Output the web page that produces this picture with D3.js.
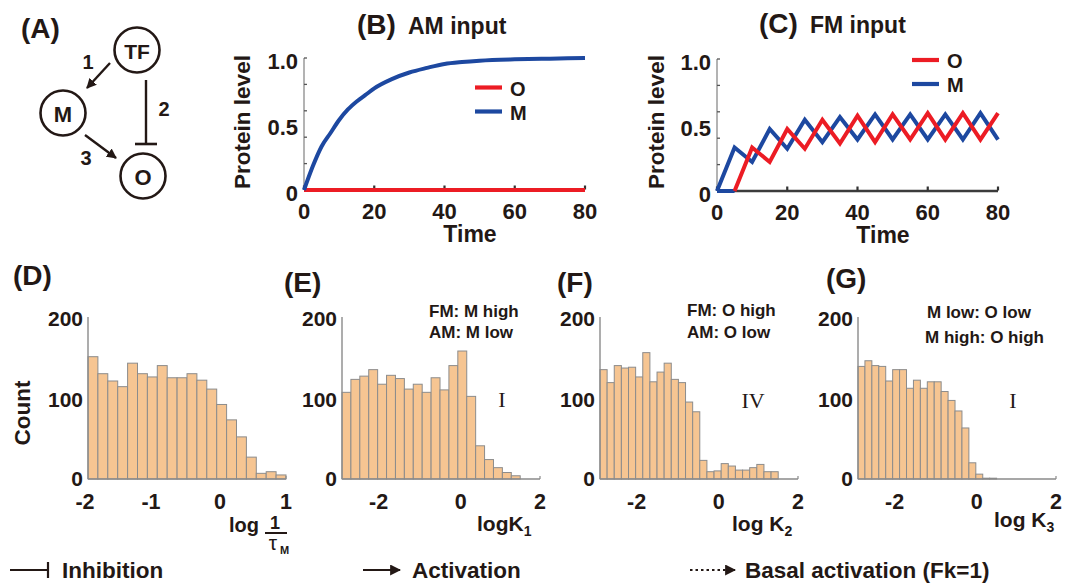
<!DOCTYPE html>
<html><head><meta charset="utf-8">
<script src="https://cdn.jsdelivr.net/npm/d3@7"></script>
<style>
html,body{margin:0;padding:0;background:#fff;}
svg{display:block;font-family:"Liberation Sans",Arial,sans-serif;}
</style></head>
<body><svg id="c" width="1075" height="583"></svg>
<script>
// ---------------- DATA ----------------
// Panel B (AM input)
const bTime = [0,2.5,5,7.5,10,12.5,15,17.5,20,25,30,35,40,45,50,60,70,80];
const bM    = [0,0.18,0.33,0.43,0.53,0.61,0.67,0.72,0.77,0.84,0.89,0.925,0.955,0.97,0.98,0.99,0.995,1.0];
const bOTime = [0,80];
const bO     = [0,0];
// Panel C (FM input)
const cMTime = [0,5,10,15,20,25,30,35,40,45,50,55,60,65,70,75,80];
const cM     = [0,0.33,0.22,0.47,0.32,0.54,0.37,0.56,0.39,0.58,0.39,0.58,0.39,0.58,0.39,0.59,0.39];
const cOTime = [5,10,15,20,25,30,35,40,45,50,55,60,65,70,75,80];
const cO     = [0,0.33,0.22,0.47,0.32,0.54,0.36,0.57,0.37,0.58,0.39,0.59,0.39,0.59,0.39,0.59];
const cOPreTime = [0,5];
const cOPre     = [0,0];
const lineTicksX = [0,20,40,60,80];
const lineTicksYMinor = [0,0.2,0.4,0.6,0.8,1.0];
const lineTicksYLabels = [0,0.5,1.0];
const lineTickYText = ["0","0.5","1.0"];
// Histograms
const dCounts = [151,130,121,114,143,130,126,140,125,125,130,122,111,92,73,52,27,7,9,5];
const dBin = {start:-2, width:0.15};
const eCounts = [107,123,127,135,117,128,124,111,117,107,125,110,140,158,102,41,24,14,8,4];
const eBin = {start:-3, width:0.225};
const fCounts = [135,119,140,137,138,126,156,120,132,143,123,119,95,83,23,9,10,19,16,11,11,14,18,9,9];
const fBin = {start:-3, width:0.18};
const gCounts = [139,146,140,139,121,135,135,112,122,112,120,120,108,97,84,63,20,6,1,1];
const gBin = {start:-3, width:0.175};
const dTicks = [-2,-1,0,1];
const kTicks = [-2,0,2];
const countTicks = [0,100,200];

// ---------------- STYLE ----------------
const INK = "#231815";
const RED = "#ec1c24";
const BLUE = "#1d48a0";
const BARFILL = "#f6c592";
const BARSTROKE = "#8c8c8c";
const AXISGRAY = "#8a8a8a";

const svg = d3.select("#c");
const defs = svg.append("defs");
defs.append("marker").attr("id","ah").attr("viewBox","0 0 10 10").attr("refX",9).attr("refY",5)
  .attr("markerWidth",4.2).attr("markerHeight",4.2).attr("orient","auto")
  .append("path").attr("d","M0,0L10,5L0,10Z").attr("fill",INK);
defs.append("marker").attr("id","ah2").attr("viewBox","0 0 10 10").attr("refX",9).attr("refY",5)
  .attr("markerWidth",5).attr("markerHeight",5).attr("orient","auto").attr("markerUnits","strokeWidth")
  .append("path").attr("d","M0,0L10,5L0,10Z").attr("fill",INK);

function txt(x,y,s,size,opts={}){
  const t = svg.append("text").attr("x",x).attr("y",y).text(s)
    .attr("font-size",size).attr("font-weight",opts.weight||"bold").attr("fill",opts.fill||INK)
    .attr("text-anchor",opts.anchor||"start").attr("dominant-baseline",opts.base||"central");
  if(opts.family) t.attr("font-family",opts.family);
  if(opts.rotate) t.attr("transform",`rotate(-90,${x},${y})`);
  return t;
}

// ---------------- PANEL A ----------------
txt(21,28,"(A)",28);
const nodes = [{k:"TF",x:137,y:50},{k:"M",x:63,y:113},{k:"O",x:143,y:176}];
nodes.forEach(n=>{
  svg.append("circle").attr("cx",n.x).attr("cy",n.y).attr("r",22.5).attr("fill","none").attr("stroke",INK).attr("stroke-width",2.6);
  txt(n.x,n.y+1,n.k,n.k==="TF"?21:22,{anchor:"middle"});
});
svg.append("line").attr("x1",110).attr("y1",63).attr("x2",87).attr("y2",88).attr("stroke",INK).attr("stroke-width",2.4).attr("marker-end","url(#ah)");
txt(88,62,"1",20,{anchor:"middle"});
svg.append("line").attr("x1",146).attr("y1",80).attr("x2",146).attr("y2",144).attr("stroke",INK).attr("stroke-width",2.4);
svg.append("line").attr("x1",135).attr("y1",144).attr("x2",157).attr("y2",144).attr("stroke",INK).attr("stroke-width",2.6);
txt(164,109,"2",20,{anchor:"middle"});
svg.append("line").attr("x1",85).attr("y1",135).attr("x2",116).attr("y2",158).attr("stroke",INK).attr("stroke-width",2.4).attr("marker-end","url(#ah)");
txt(86,158,"3",20,{anchor:"middle"});

// ---------------- LINE PANELS ----------------
function linePanel(cfg){
  const x = d3.scaleLinear().domain([0,80]).range([cfg.x0,cfg.x1]);
  const y = d3.scaleLinear().domain([0,1]).range([cfg.y0,cfg.y1]);
  const g = svg.append("g");
  g.append("line").attr("x1",cfg.x0).attr("x2",cfg.x1).attr("y1",cfg.y0).attr("y2",cfg.y0).attr("stroke","#3b3b3b").attr("stroke-width",2.4);
  g.append("line").attr("x1",cfg.x0).attr("x2",cfg.x0).attr("y1",cfg.y0).attr("y2",cfg.y1).attr("stroke",AXISGRAY).attr("stroke-width",1.3);
  lineTicksYMinor.forEach(v=>{
    g.append("line").attr("x1",cfg.x0).attr("x2",cfg.x0+3).attr("y1",y(v)).attr("y2",y(v)).attr("stroke","#555").attr("stroke-width",1.3);
  });
  lineTicksYLabels.forEach((v,i)=>{
    txt(cfg.x0-6,y(v)+3,lineTickYText[i],22,{anchor:"end"});
  });
  lineTicksX.forEach(v=>{
    g.append("line").attr("x1",x(v)).attr("x2",x(v)).attr("y1",cfg.y0-0.5).attr("y2",cfg.y0-4.5).attr("stroke","#333").attr("stroke-width",2.2);
    txt(x(v),cfg.y0+21,String(v),22,{anchor:"middle"});
  });
  cfg.series.forEach(s=>{
    const line = d3.line().x(d=>x(d[0])).y(d=>y(d[1])).curve(s.smooth?d3.curveMonotoneX:d3.curveLinear);
    g.append("path").attr("d",line(d3.zip(s.t,s.v))).attr("fill","none").attr("stroke",s.c).attr("stroke-width",4).attr("stroke-linejoin","miter").attr("stroke-miterlimit",3);
  });
  txt(cfg.timeX,cfg.y0+44,"Time",23,{anchor:"middle"});
  txt(cfg.ylabX,122,"Protein level",22.5,{anchor:"middle",rotate:true});
  cfg.legend.forEach(l=>{
    g.append("line").attr("x1",cfg.lx).attr("x2",cfg.lx+27).attr("y1",l.y).attr("y2",l.y).attr("stroke",l.c).attr("stroke-width",4.2);
    txt(cfg.lx+35,l.y+1,l.k,20);
  });
}
linePanel({x0:304,x1:585,y0:190,y1:58,timeX:470,ylabX:242,lx:475,
  series:[{t:bOTime,v:bO,c:RED},{t:bTime,v:bM,c:BLUE,smooth:true}],
  legend:[{k:"O",c:RED,y:87.5},{k:"M",c:BLUE,y:111.5}]});
linePanel({x0:717,x1:998,y0:191,y1:59,timeX:883,ylabX:656,lx:912,
  series:[{t:cOPreTime,v:cOPre,c:BLUE},{t:cMTime,v:cM,c:BLUE},{t:cOTime,v:cO,c:RED}],
  legend:[{k:"O",c:RED,y:60},{k:"M",c:BLUE,y:84}]});
txt(357,24,"(B)",28);
txt(408,26,"AM input",23);
txt(759,23,"(C)",28);
txt(810,25,"FM input",23);

// ---------------- HISTOGRAMS ----------------
function hist(cfg){
  const x = d3.scaleLinear().domain(cfg.domain).range([cfg.x0,cfg.x0+198]);
  const y = d3.scaleLinear().domain([0,200]).range([479,317]);
  const g = svg.append("g");
  g.selectAll("rect").data(cfg.counts).join("rect")
    .attr("x",(d,i)=>x(cfg.bin.start+i*cfg.bin.width))
    .attr("width",(d,i)=>x(cfg.bin.start+(i+1)*cfg.bin.width)-x(cfg.bin.start+i*cfg.bin.width))
    .attr("y",d=>y(d)).attr("height",d=>y(0)-y(d))
    .attr("fill",BARFILL).attr("stroke",BARSTROKE).attr("stroke-width",1);
  g.append("line").attr("x1",cfg.x0).attr("x2",cfg.x0).attr("y1",479).attr("y2",317).attr("stroke",AXISGRAY).attr("stroke-width",1.4);
  g.append("line").attr("x1",cfg.x0).attr("x2",cfg.x0+198).attr("y1",479).attr("y2",479).attr("stroke",AXISGRAY).attr("stroke-width",1.4);
  g.append("line").attr("x1",cfg.x0+198).attr("x2",cfg.x0+198).attr("y1",479).attr("y2",476).attr("stroke",AXISGRAY).attr("stroke-width",1.2);
  countTicks.forEach(v=>txt(cfg.x0-5,y(v)+(v===0?-1:1),String(v),21,{anchor:"end"}));
  cfg.ticks.forEach(v=>txt(x(v)-(v<0?3:0),502,String(v),21.5,{anchor:"middle"}));
  txt(cfg.lx,cfg.ly,cfg.letter,28);
  if(cfg.ann){
    txt(cfg.ann.x,cfg.ann.y1,cfg.ann.l1,17);
    txt(cfg.ann.x2||cfg.ann.x,cfg.ann.y2,cfg.ann.l2,17);
  }
  if(cfg.roman){
    txt(cfg.roman.x,cfg.roman.y,cfg.roman.s,22,{anchor:"middle",weight:"normal",family:"'Liberation Serif','Times New Roman',serif"});
  }
}
hist({domain:[-2,1],x0:88,counts:dCounts,bin:dBin,ticks:dTicks,letter:"(D)",lx:13,ly:275});
hist({domain:[-3,2],x0:342,counts:eCounts,bin:eBin,ticks:kTicks,letter:"(E)",lx:284,ly:282,
  ann:{x:429,y1:311,y2:332,l1:"FM: M high",l2:"AM: M low"},roman:{x:502,y:399,s:"I"}});
hist({domain:[-3,2],x0:600,counts:fCounts,bin:fBin,ticks:kTicks,letter:"(F)",lx:557,ly:282,
  ann:{x:687,y1:310,y2:332,l1:"FM: O high",l2:"AM: O low"},roman:{x:753,y:400,s:"IV"}});
hist({domain:[-3,2],x0:858,counts:gCounts,bin:gBin,ticks:kTicks,letter:"(G)",lx:826,ly:278,
  ann:{x:927,x2:925,y1:312,y2:337,l1:"M low: O low",l2:"M high: O high"},roman:{x:1013,y:400,s:"I"}});

txt(22,413,"Count",22.5,{anchor:"middle",rotate:true});

// x label of (D): log 1/tau_M
txt(229,532,"log",20,{base:"alphabetic"});
txt(275,529,"1",18,{anchor:"middle",base:"alphabetic"});
svg.append("line").attr("x1",265).attr("x2",287).attr("y1",533).attr("y2",533).attr("stroke",INK).attr("stroke-width",2);
txt(273,550,"τ",21,{anchor:"middle",base:"alphabetic",weight:"normal"});
txt(280,554,"M",11,{base:"alphabetic"});

function kLabel(x,y,sub,space){
  const t = svg.append("text").attr("x",x).attr("y",y).attr("font-size",21).attr("font-weight","bold").attr("fill",INK);
  t.append("tspan").text(space?"log K":"logK");
  t.append("tspan").text(sub).attr("font-size",14).attr("dy",5);
}
kLabel(477,531,"1",false);
kLabel(732,531,"2",true);
kLabel(994,527,"3",true);

// ---------------- BOTTOM LEGEND ----------------
const LY = 570;
svg.append("line").attr("x1",10).attr("x2",48).attr("y1",LY).attr("y2",LY).attr("stroke",INK).attr("stroke-width",2.2);
svg.append("line").attr("x1",48).attr("x2",48).attr("y1",LY-8).attr("y2",LY+8).attr("stroke",INK).attr("stroke-width",2.2);
txt(62,LY,"Inhibition",22.5);
svg.append("line").attr("x1",363).attr("x2",400).attr("y1",LY).attr("y2",LY).attr("stroke",INK).attr("stroke-width",2.2).attr("marker-end","url(#ah2)");
txt(412,LY,"Activation",22.5);
svg.append("line").attr("x1",690).attr("x2",735).attr("y1",LY).attr("y2",LY).attr("stroke",INK).attr("stroke-width",2.2).attr("stroke-dasharray","2.5,3").attr("marker-end","url(#ah2)");
txt(745,LY,"Basal activation (Fk=1)",22.5);
</script></body></html>
